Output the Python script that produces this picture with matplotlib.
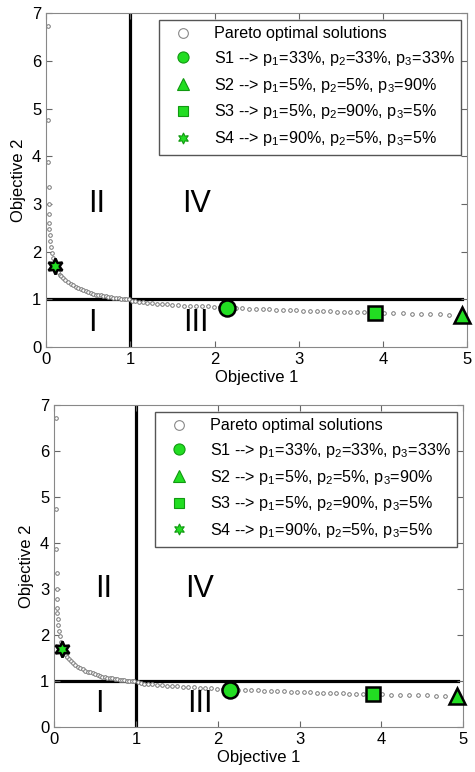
import matplotlib
matplotlib.use("Agg")
import matplotlib.pyplot as plt
from matplotlib.lines import Line2D

plt.rcParams['font.family'] = ['Liberation Sans', 'DejaVu Sans']
plt.rcParams['mathtext.default'] = 'regular'

# Pareto front points
pareto_x = [0.02, 0.02, 0.02, 0.03, 0.03, 0.03, 0.04, 0.04, 0.05, 0.05, 0.06, 0.07,
            0.08, 0.10, 0.12, 0.14, 0.16, 0.18, 0.20, 0.23, 0.26, 0.29, 0.32, 0.35,
            0.38, 0.41, 0.44, 0.47, 0.50, 0.53, 0.56, 0.59, 0.62, 0.65, 0.68, 0.71,
            0.74, 0.77, 0.80, 0.83, 0.86, 0.89, 0.92, 0.95, 0.98, 1.02, 1.06, 1.10,
            1.15, 1.20, 1.26, 1.32, 1.38, 1.44, 1.50, 1.57, 1.64, 1.71, 1.78, 1.85,
            1.92, 1.99, 2.06, 2.15, 2.25, 2.33, 2.41, 2.49, 2.57, 2.65, 2.73, 2.81,
            2.89, 2.97, 3.05, 3.13, 3.21, 3.29, 3.37, 3.45, 3.53, 3.61, 3.69, 3.77,
            3.90, 4.01, 4.12, 4.23, 4.34, 4.45, 4.56, 4.67, 4.78, 4.93]
pareto_y = [6.72, 4.75, 3.88, 3.35, 3.00, 2.78, 2.60, 2.48, 2.35, 2.22, 2.10, 1.98,
            1.86, 1.70, 1.63, 1.57, 1.52, 1.48, 1.44, 1.40, 1.36, 1.32, 1.29, 1.26,
            1.23, 1.21, 1.19, 1.17, 1.15, 1.13, 1.12, 1.10, 1.09, 1.08, 1.07, 1.06,
            1.05, 1.04, 1.035, 1.03, 1.02, 1.015, 1.01, 1.005, 1.00, 0.975, 0.96, 0.95,
            0.94, 0.93, 0.92, 0.91, 0.90, 0.895, 0.89, 0.88, 0.87, 0.865, 0.86, 0.855,
            0.85, 0.84, 0.83, 0.82, 0.815, 0.81, 0.805, 0.80, 0.795, 0.79, 0.785, 0.78,
            0.775, 0.77, 0.765, 0.76, 0.755, 0.75, 0.745, 0.74, 0.735, 0.73, 0.728, 0.725,
            0.72, 0.715, 0.71, 0.705, 0.70, 0.695, 0.69, 0.685, 0.68, 0.67]

# selected solutions S1..S4
sol_x = [2.15, 4.93, 3.90, 0.10]
sol_y = [0.82, 0.67, 0.72, 1.70]
sol_markers = ['o', '^', 's', (6, 1, 0)]
sol_sizes = [11.5, 11.5, 9.5, 11.5]
sol_labels = [r"S1 --> p$_1$=33%, p$_2$=33%, p$_3$=33%",
              r"S2 --> p$_1$=5%, p$_2$=5%, p$_3$=90%",
              r"S3 --> p$_1$=5%, p$_2$=90%, p$_3$=5%",
              r"S4 --> p$_1$=90%, p$_2$=5%, p$_3$=5%"]

quad_labels = ["I", "II", "III", "IV"]
quad_x = [0.55, 0.6, 1.78, 1.78]
quad_y = [0.5, 3.0, 0.5, 3.0]

green = '#22dd22'


def draw(ax):
    ax.plot(pareto_x, pareto_y, 'o', mfc='white', mec='#777777', ms=2.6, mew=0.7,
            linestyle='none', zorder=2)
    ax.plot([0, 4.94], [1, 1], color='black', lw=2.3, zorder=1)
    ax.plot([1, 1], [0, 7], color='black', lw=2.3, zorder=1)
    for x, y, m, s in zip(sol_x, sol_y, sol_markers, sol_sizes):
        ax.plot(x, y, marker=m, ms=s, mfc=green, mec='black', mew=1.8,
                linestyle='none', zorder=4, clip_on=False)
    for t, x, y in zip(quad_labels, quad_x, quad_y):
        ax.text(x, y, t, fontsize=22, ha='center', va='center')

    handles = [Line2D([], [], marker='o', ls='none', mfc='white', mec='#888888',
                      ms=7, mew=0.8)]
    for m, s in zip(sol_markers, [8, 8, 7, 8]):
        handles.append(Line2D([], [], marker=m, ls='none', mfc=green,
                              mec='#119911', ms=s, mew=0.8))
    ax.legend(handles, ["Pareto optimal solutions"] + sol_labels,
              loc='upper right', bbox_to_anchor=(0.985, 0.98), fontsize=11.6,
              frameon=True, fancybox=False, edgecolor='#555555', framealpha=1,
              handletextpad=0.8, labelspacing=0.48, borderpad=0.4,
              handlelength=2.2, borderaxespad=0.0)

    ax.set_xlim(0, 5)
    ax.set_ylim(0, 7)
    ax.set_xticks([0, 1, 2, 3, 4, 5])
    ax.set_yticks([0, 1, 2, 3, 4, 5, 6, 7])
    ax.tick_params(direction='in', top=True, right=True, labelsize=12,
                   length=4, color='#666666')
    for sp in ax.spines.values():
        sp.set_color('#888888')
    ax.set_xlabel("Objective 1", fontsize=12, labelpad=2)
    ax.set_ylabel("Objective 2", fontsize=12, labelpad=4)


fig = plt.figure(figsize=(4.75, 7.72), dpi=100)
ax1 = fig.add_axes([0.097, 0.5505, 0.887, 0.4325])
ax2 = fig.add_axes([0.114, 0.058, 0.861, 0.417])
draw(ax1)
draw(ax2)

plt.savefig("out.png", dpi=100)
